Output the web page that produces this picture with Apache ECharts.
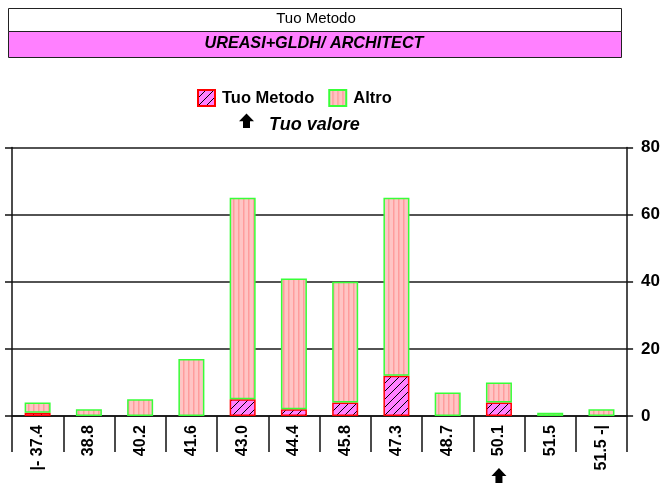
<!DOCTYPE html>
<html><head><meta charset="utf-8">
<script src="https://cdn.jsdelivr.net/npm/echarts@6/dist/echarts.min.js"></script>
<style>html,body{margin:0;padding:0;background:#fff}#c{width:663px;height:489px}</style>
</head><body><div id="c"></div>
<script>
// ---- data ----
const categories = ['|- 37.4','38.8','40.2','41.6','43.0','44.4','45.8','47.3','48.7','50.1','51.5','51.5 -|'];
const tuoMetodo = [1,0,0,0,5,2,4,12,0,4,0,0];
const altro = [3,2,5,17,60,39,36,53,7,6,1,2];
const yMin = 0, yMax = 80, yStep = 20;
const tuoValoreCategory = '50.1';
const titleText = 'Tuo Metodo';
const subtitleText = 'UREASI+GLDH/ ARCHITECT';
const legendNames = ['Tuo Metodo','Altro'];
const tuoValoreText = 'Tuo valore';

const FONT = "'Liberation Sans', Arial, sans-serif";

function stripePattern(){
  const c = document.createElement('canvas'); c.width = 5; c.height = 4;
  const g = c.getContext('2d');
  g.fillStyle = '#ffc4c4'; g.fillRect(0,0,5,4);
  g.fillStyle = '#ff9c9c'; g.fillRect(3,0,1,4);
  g.fillStyle = '#ffb0b0'; g.fillRect(4,0,1,4);
  return c;
}
function hatchPattern(){
  const s = 8;
  const c = document.createElement('canvas'); c.width = s; c.height = s;
  const g = c.getContext('2d');
  g.fillStyle = '#ff80ff'; g.fillRect(0,0,s,s);
  g.strokeStyle = '#000'; g.lineWidth = 1;
  g.beginPath();
  g.moveTo(0,s); g.lineTo(s,0);
  g.moveTo(-1,1); g.lineTo(1,-1);
  g.moveTo(s-1,s+1); g.lineTo(s+1,s-1);
  g.stroke();
  return c;
}
const altroFill = {image: stripePattern(), repeat: 'repeat'};
const tuoFill = {image: hatchPattern(), repeat: 'repeat'};

function arrow(cx, top, bottom){
  const headH = (bottom - top) * 0.53;
  return [[cx, top],[cx+7.5, top+headH],[cx+3.5, top+headH],[cx+3.5, bottom],
          [cx-3.5, bottom],[cx-3.5, top+headH],[cx-7.5, top+headH]];
}

const chart = echarts.init(document.getElementById('c'), null, {renderer:'canvas'});
const option = {
  animation: false,
  backgroundColor: '#fff',
  textStyle: {fontFamily: FONT},
  grid: {left: 12, right: 34, top: 147.5, bottom: 73, containLabel: false},
  legend: {
    data: legendNames, left: 197, top: 89, icon: 'rect',
    itemWidth: 17, itemHeight: 16, itemGap: 14, padding: 0,
    textStyle: {fontSize: 16.5, fontWeight: 'bold', color: '#000', fontFamily: FONT, padding: [0,0,0,2]}
  },
  xAxis: {
    type: 'category', data: categories, boundaryGap: true,
    axisLine: {show: true, lineStyle: {color: '#111', width: 1.5}},
    axisTick: {show: true, length: 36, interval: 0, lineStyle: {color: '#111', width: 1.5}},
    axisLabel: {interval: 0, rotate: 90, margin: 9, fontSize: 16, fontWeight: 'bold', color: '#000', fontFamily: FONT},
    splitLine: {show: false}
  },
  yAxis: [
    {
      type: 'value', position: 'left', min: yMin, max: yMax, interval: yStep,
      axisLine: {show: true, lineStyle: {color: '#111', width: 1.5}},
      axisTick: {show: true, length: 7, lineStyle: {color: '#111', width: 1.5}},
      axisLabel: {show: false},
      splitLine: {show: true, lineStyle: {color: '#1a1a1a', width: 1.5}}
    },
    {
      type: 'value', position: 'right', min: yMin, max: yMax, interval: yStep,
      axisLine: {show: true, lineStyle: {color: '#111', width: 1.5}},
      axisTick: {show: true, length: 6, lineStyle: {color: '#111', width: 1.5}},
      axisLabel: {show: true, margin: 14, fontSize: 17, fontWeight: 'bold', color: '#000', fontFamily: FONT},
      splitLine: {show: false}
    }
  ],
  series: [
    {
      name: legendNames[0], type: 'bar', stack: 'tot', barWidth: 26, yAxisIndex: 0,
      data: tuoMetodo.map(v => v === 0 ? '-' : v),
      itemStyle: {color: tuoFill, borderColor: '#ff0000', borderWidth: 1.5}
    },
    {
      name: legendNames[1], type: 'bar', stack: 'tot', barWidth: 26, yAxisIndex: 0,
      data: altro.map(v => v === 0 ? '-' : v),
      itemStyle: {color: altroFill, borderColor: '#38ff38', borderWidth: 1.5}
    }
  ]
};
chart.setOption(option);

const vx = chart.convertToPixel({xAxisIndex: 0}, tuoValoreCategory);
chart.setOption({
  graphic: [
    {type: 'rect', shape: {x: 8.5, y: 8.5, width: 613, height: 23}, style: {fill: '#fff', stroke: '#222', lineWidth: 1}},
    {type: 'rect', shape: {x: 8.5, y: 31.5, width: 613, height: 26}, style: {fill: '#ff80ff', stroke: '#222', lineWidth: 1}},
    {type: 'text', x: 316, y: 19, style: {text: titleText, font: "15px 'Liberation Sans', Arial", textAlign: 'center', textVerticalAlign: 'middle', fill: '#000'}},
    {type: 'text', x: 314, y: 44, style: {text: subtitleText, font: "italic bold 16.2px 'Liberation Sans', Arial", textAlign: 'center', textVerticalAlign: 'middle', fill: '#000'}},
    {type: 'polygon', shape: {points: arrow(246.5, 113.5, 128)}, style: {fill: '#000'}},
    {type: 'text', x: 269, y: 125, style: {text: tuoValoreText, font: "italic bold 18px 'Liberation Sans', Arial", textAlign: 'left', textVerticalAlign: 'middle', fill: '#000'}},
    {type: 'polygon', shape: {points: arrow(vx, 468, 483)}, style: {fill: '#000'}}
  ]
});
</script></body></html>
